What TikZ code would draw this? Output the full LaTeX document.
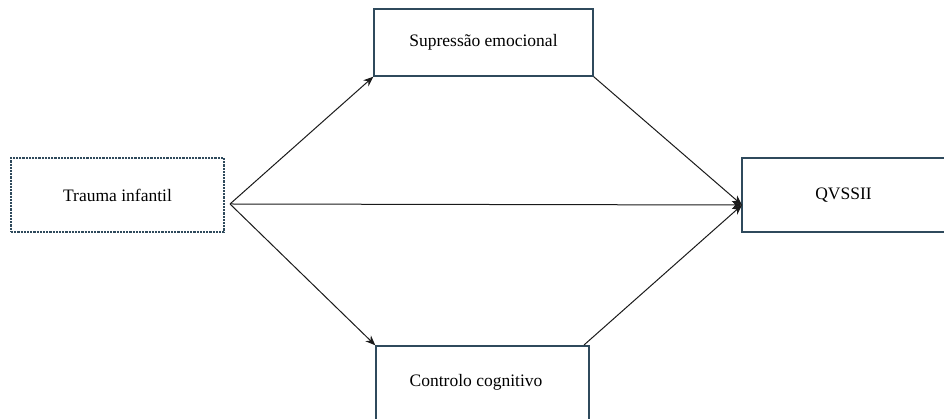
\documentclass[tikz,border=0pt]{standalone}
\usepackage{fontspec}
\setmainfont{Liberation Serif}
\newfontfamily\tnr{Liberation Serif}
\usetikzlibrary{arrows.meta}
\definecolor{boxline}{HTML}{2F4A5C}
\definecolor{arrowc}{HTML}{1A1A1A}
\tikzset{
  box/.style={draw=boxline, line width=1.4pt, fill=white, rectangle, inner sep=0pt, font=\tnr\fontsize{17.5}{20}\selectfont},
  dashbox/.style={box, dash pattern=on 2.2pt off 1pt},
  lbl/.style={inner sep=0pt, font=\tnr\fontsize{17.5}{20}\selectfont},
  conn/.style={draw=arrowc, line width=1pt, -{Stealth[length=10pt,width=8pt]}},
}
\begin{document}
\begin{tikzpicture}[x=1pt,y=1pt]
\useasboundingbox (0,0) rectangle (944,419);
\clip (0,0) rectangle (944,419);
% boxes (y = 419 - image y)
\node[dashbox, minimum width=213pt, minimum height=74pt] (trauma) at (117.5,224) {Trauma infantil};
\node[box, minimum width=219pt, minimum height=67pt] (sup) at (483.5,376.5) {Supressão emocional};
\node[box, minimum width=203pt, minimum height=74pt] (qv) at (843.5,224) {QVSSII};
\node[box, minimum width=213pt, minimum height=110pt] (ctrl) at (482.5,18) {};
\node[lbl] (ctrltxt) at (476,37) {Controlo cognitivo};
% connector end points
\coordinate (t0) at (230,215);
\coordinate (q0) at (742,214);
\coordinate (cstart) at (584,74);
% connectors
\draw[conn] (t0) -- (sup.south west);
\draw[conn] (t0) -- (q0);
\draw[conn] (t0) -- (ctrl.north west);
\draw[conn] (sup.south east) -- (q0);
\draw[conn] (cstart) -- (q0);
\end{tikzpicture}
\end{document}
